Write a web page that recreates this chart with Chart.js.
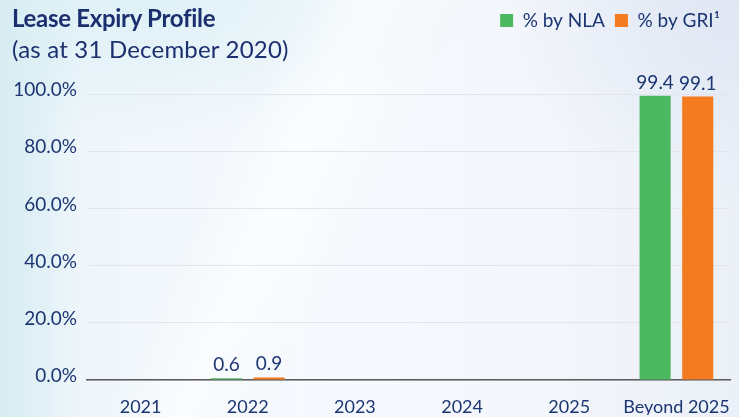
<!DOCTYPE html>
<html>
<head>
<meta charset="utf-8">
<script src="https://cdn.jsdelivr.net/npm/chart.js@4.4.0/dist/chart.umd.min.js"></script>
<style>
    html, body {
        margin: 0;
        padding: 0;
        width: 739px;
        height: 417px;
        overflow: hidden;
    }
    body {
        position: relative;
        font-family: Lato, "Open Sans", sans-serif;
        background:
            linear-gradient(115deg, rgba(255,255,255,0) 32%, rgba(255,255,255,0.6) 40%, rgba(255,255,255,0) 50%),
            radial-gradient(ellipse 320px 140px at 20% 0%, rgba(214,238,244,0.7), rgba(214,238,244,0) 100%),
            radial-gradient(ellipse 240px 200px at 100% 0%, rgba(222,230,243,0.9), rgba(222,230,243,0) 100%),
            linear-gradient(90deg, #d8ecf2 0%, #e2f1f6 6%, #eff6fb 11%, #f6f9fd 40%, #f3f6fb 75%, #ebf0f8 100%);
    }
    .heading {
        position: absolute;
        left: 12px;
        top: 3px;
        color: #1b2f6e;
        z-index: 2;
    }
    .heading .main {
        font-size: 24px;
        font-weight: 700;
        line-height: 30px;
        letter-spacing: -0.3px;
    }
    .heading .sub {
        font-size: 24px;
        font-weight: 400;
        line-height: 30px;
        margin-top: 1px;
        letter-spacing: 0.2px;
    }
    #wrap {
        position: absolute;
        left: 0;
        top: 0;
        width: 739px;
        height: 417px;
    }
</style>
</head>
<body>
<div class="heading">
    <div class="main">Lease Expiry Profile</div>
    <div class="sub">(as at 31 December 2020)</div>
</div>
<div id="wrap"><canvas id="expiryChart"></canvas></div>
<script>
const categories = ['2021', '2022', '2023', '2024', '2025', 'Beyond 2025'];
const nlaShare = [0, 0.6, 0, 0, 0, 99.4];
const griShare = [0, 0.9, 0, 0, 0, 99.1];
const yTicks = [0, 20, 40, 60, 80, 100];

const NAVY = '#1c3573';
const GREEN = '#4cb85f';
const ORANGE = '#f47b20';
const FONT = 'Lato, "Open Sans", sans-serif';

// leave room between the legend row and the plot
const legendGap = {
    id: 'legendGap',
    beforeInit(chart) {
        const fit = chart.legend.fit;
        chart.legend.fit = function () {
            fit.bind(chart.legend)();
            this.height += 54;
        };
    }
};

// value printed above each non-zero bar
const barValues = {
    id: 'barValues',
    afterDatasetsDraw(chart) {
        const ctx = chart.ctx;
        ctx.save();
        ctx.font = '19px ' + FONT;
        ctx.fillStyle = NAVY;
        ctx.textAlign = 'center';
        ctx.textBaseline = 'alphabetic';
        chart.data.datasets.forEach((ds, i) => {
            const meta = chart.getDatasetMeta(i);
            meta.data.forEach((bar, j) => {
                const v = ds.data[j];
                if (!v) return;
                ctx.fillText(v.toFixed(1), bar.x, bar.y - 7);
            });
        });
        ctx.restore();
    }
};

new Chart(document.getElementById('expiryChart'), {
    type: 'bar',
    data: {
        labels: categories,
        datasets: [{
            label: '% by NLA',
            data: nlaShare,
            backgroundColor: GREEN
        }, {
            label: '% by GRI\u00B9',
            data: griShare,
            backgroundColor: ORANGE
        }]
    },
    options: {
        responsive: true,
        maintainAspectRatio: false,
        animation: false,
        categoryPercentage: 0.795,
        barPercentage: 0.73,
        layout: {
            padding: { top: 1, left: 13, right: 9, bottom: 2 }
        },
        plugins: {
            legend: {
                position: 'top',
                align: 'end',
                labels: {
                    boxWidth: 13,
                    boxHeight: 13,
                    padding: 10,
                    color: NAVY,
                    font: { family: FONT, size: 19 }
                }
            },
            tooltip: { enabled: false }
        },
        scales: {
            x: {
                afterFit(scale) {
                    scale.height = 35;
                    scale.paddingLeft = 0;
                    scale.paddingRight = 0;
                },
                grid: { display: false, drawTicks: false },
                border: { display: true, color: '#5b5b5b', width: 1.5 },
                ticks: {
                    color: NAVY,
                    padding: 16,
                    maxRotation: 0,
                    minRotation: 0,
                    autoSkip: false,
                    font: { family: FONT, size: 18 }
                }
            },
            y: {
                min: 0,
                max: 100,
                afterFit(scale) {
                    scale.width = 74;
                    scale.paddingTop = 0;
                    scale.paddingBottom = 0;
                },
                afterBuildTicks(scale) {
                    scale.ticks = yTicks.map(v => ({ value: v }));
                },
                grid: { color: '#e2e5ea', lineWidth: 1, drawTicks: false },
                border: { display: false },
                ticks: {
                    color: NAVY,
                    padding: 10,
                    labelOffset: -4,
                    font: { family: FONT, size: 19 },
                    callback: value => value.toFixed(1) + '%'
                }
            }
        }
    },
    plugins: [legendGap, barValues]
});
</script>
</body>
</html>
